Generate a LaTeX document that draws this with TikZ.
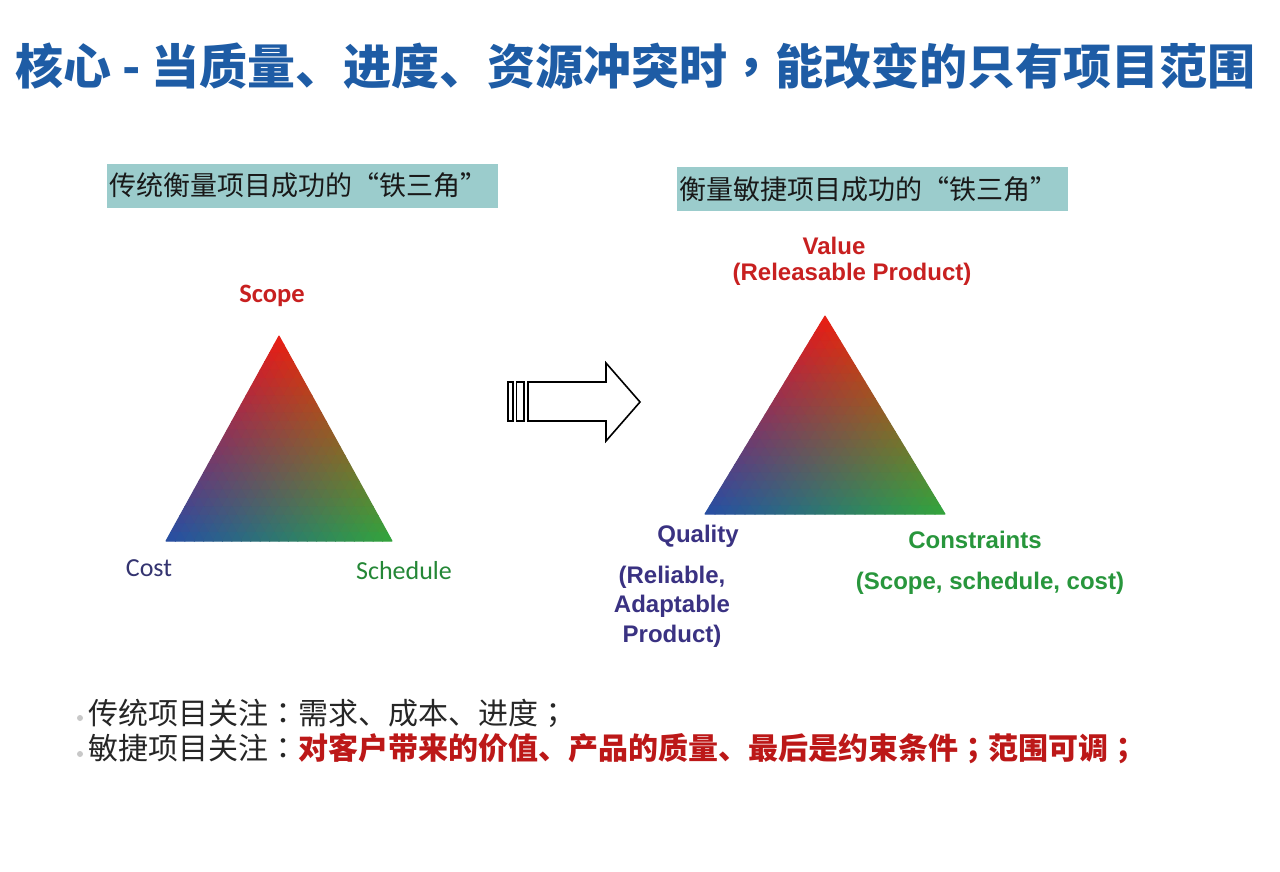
\documentclass[tikz,border=0pt]{standalone}
\usepackage{fontspec}
\setmainfont{Liberation Sans}
\newfontfamily\cjk{Noto Sans CJK SC}
\newfontfamily\cjktc{Noto Sans CJK TC}
\newfontfamily\calib{Carlito}
\definecolor{titleblue}{RGB}{30,92,165}
\definecolor{boxfill}{RGB}{155,204,204}
\definecolor{redtxt}{RGB}{200,32,32}
\definecolor{bulletred}{RGB}{188,24,24}
\definecolor{purptxt}{RGB}{58,50,130}
\definecolor{costtxt}{RGB}{52,52,112}
\definecolor{greentxt}{RGB}{40,150,60}
\definecolor{dotgray}{RGB}{200,200,200}
\newcommand\tcp[1]{{\cjktc #1}}
\newcommand\myLQ{\makebox[1em][r]{“}}
\newcommand\myRQ{\makebox[1em][l]{”}}
\def\Ntri{24}
% apex (red), left (blue), right (green)
\newcommand\gradtri[6]{%
  \pgfmathsetmacro\ux{(#3-#1)/\Ntri}\pgfmathsetmacro\uy{(#4-#2)/\Ntri}%
  \pgfmathsetmacro\vx{(#5-#1)/\Ntri}\pgfmathsetmacro\vy{(#6-#2)/\Ntri}%
  \pgfmathtruncatemacro\Nm{\Ntri-1}%
  \foreach \i in {0,...,\Nm}{%
    \pgfmathtruncatemacro\jm{\Nm-\i}%
    \foreach \j in {0,...,\jm}{%
      \pgfmathsetmacro\wB{(\i+1/3)/\Ntri}\pgfmathsetmacro\wC{(\j+1/3)/\Ntri}\pgfmathsetmacro\wA{1-\wB-\wC}%
      \pgfmathsetmacro\cr{(\wA*235+\wB*38+\wC*50)/255}%
      \pgfmathsetmacro\cg{(\wA*28+\wB*78+\wC*165)/255}%
      \pgfmathsetmacro\cb{(\wA*18+\wB*165+\wC*60)/255}%
      \definecolor{tc}{rgb}{\cr,\cg,\cb}%
      \fill[tc,draw=tc,line width=1pt,line join=round]
        (#1+\i*\ux+\j*\vx, #2+\i*\uy+\j*\vy) --
        (#1+\i*\ux+\ux+\j*\vx, #2+\i*\uy+\uy+\j*\vy) --
        (#1+\i*\ux+\j*\vx+\vx, #2+\i*\uy+\j*\vy+\vy) -- cycle;
      \ifnum\j<\jm\relax
        \pgfmathsetmacro\wB{(\i+2/3)/\Ntri}\pgfmathsetmacro\wC{(\j+2/3)/\Ntri}\pgfmathsetmacro\wA{1-\wB-\wC}%
        \pgfmathsetmacro\cr{(\wA*235+\wB*38+\wC*50)/255}%
        \pgfmathsetmacro\cg{(\wA*28+\wB*78+\wC*165)/255}%
        \pgfmathsetmacro\cb{(\wA*18+\wB*165+\wC*60)/255}%
        \definecolor{tc}{rgb}{\cr,\cg,\cb}%
        \fill[tc,draw=tc,line width=1pt,line join=round]
          (#1+\i*\ux+\ux+\j*\vx, #2+\i*\uy+\uy+\j*\vy) --
          (#1+\i*\ux+\j*\vx+\vx, #2+\i*\uy+\j*\vy+\vy) --
          (#1+\i*\ux+\ux+\j*\vx+\vx, #2+\i*\uy+\uy+\j*\vy+\vy) -- cycle;
      \fi
    }%
  }%
}
\tikzset{
  boxlabel/.style={fill=boxfill,anchor=west,inner xsep=2pt,minimum height=44pt,text width=387pt,
    font=\cjk\fontsize{27}{32}\selectfont,text=black!90},
  armlabel/.style={font=\bfseries\fontsize{24}{29.5}\selectfont,align=center,inner sep=0pt},
  callabel/.style={font=\calib\fontsize{26}{30}\selectfont,inner sep=0pt},
  bullettxt/.style={font=\cjk\fontsize{30}{34}\selectfont,anchor=west,inner sep=0pt,text=black!85},
  bdot/.style={circle,fill=dotgray,inner sep=0pt,minimum size=6pt},
  arrowline/.style={draw=black,line width=1.6pt,line join=miter,fill=white}
}
\begin{document}
\begin{tikzpicture}[x=1pt,y=-1pt]
\useasboundingbox[fill=white] (0,0) rectangle (1280,871);
% title
\node[anchor=west,inner sep=0pt,text=titleblue,font=\cjk\bfseries\fontsize{48}{52}\selectfont] (title) at (15,66)
  {核心 - 当质量、进度、资源冲突时\tcp{，}能改变的只有项目范围};
% label boxes
\node[boxlabel] (lbox) at (107,185.5) {\mbox{传统衡量项目成功的\myLQ 铁三角\myRQ}};
\node[boxlabel] (rbox) at (677,189) {\mbox{衡量敏捷项目成功的\myLQ 铁三角\myRQ}};
% triangles
\gradtri{279}{336}{166}{541}{392}{541}
\gradtri{825}{316}{705}{514}{945}{514}
% left labels
\node[callabel,font=\calib\bfseries\fontsize{26.5}{30}\selectfont,text=redtxt] (scope) at (272,296) {Scope};
\node[callabel,text=costtxt] (cost) at (149,568) {Cost};
\node[callabel,text=greentxt!90!black] (sched) at (404,571) {Schedule};
% right labels
\node[armlabel,text=redtxt] (value) at (834,246) {Value};
\node[armlabel,text=redtxt] (valsub) at (852,274) {(Releasable Product)};
\node[armlabel,text=purptxt] (qual) at (698,536) {Quality};
\node[armlabel,text=purptxt] (qualsub) at (672,606.5) {(Reliable,\\Adaptable\\Product)};
\node[armlabel,text=greentxt] (cons) at (975,540) {Constraints};
\node[armlabel,text=greentxt] (conssub) at (990,583) {(Scope, schedule, cost)};
% block arrow
\draw[arrowline] (528,382) -- (606,382) -- (606,363) -- (640,402) -- (606,441) -- (606,421) -- (528,421) -- cycle;
\draw[arrowline] (508,382) rectangle (513,421);
\draw[arrowline] (516.5,382) rectangle (524,421);
% bullets
\node[bdot] (d1) at (80,718) {};
\node[bdot] (d2) at (80,754) {};
\node[bullettxt] (b1) at (88,713) {传统项目关注\tcp{：}需求、成本、进度\tcp{；}};
\node[bullettxt] (b2) at (88,749) {敏捷项目关注\tcp{：}\textcolor{bulletred}{\bfseries 对客户带来的价值、产品的质量、最后是约束条件\tcp{；}范围可调\tcp{；}}};
\end{tikzpicture}
\end{document}
